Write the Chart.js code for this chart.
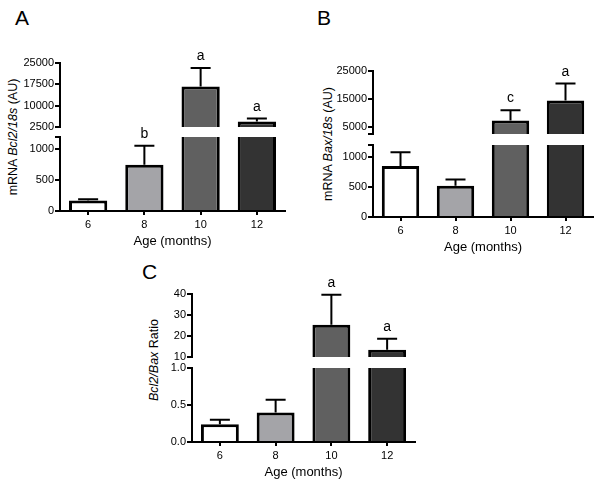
<!DOCTYPE html>
<html lang="en">
<head>
<meta charset="UTF-8">
<title>Bcl2 / Bax expression by age</title>
<script src="https://cdn.jsdelivr.net/npm/chart.js"></script>
<style>
  body { margin: 0; background: #fff; font-family: "Liberation Sans", Arial, sans-serif; }
  #figure { position: relative; width: 600px; height: 484px; overflow: hidden; }
  .seg { position: absolute; }
  .panel-letter { position: absolute; font-size: 21px; line-height: 1; color: #000; }
  .ytitle { position: absolute; font-size: 12.5px; line-height: 1; white-space: nowrap; color: #000;
            transform: translate(-50%, -50%) rotate(-90deg); }
</style>
</head>
<body>
<div id="figure">
  <div class="panel-letter" style="left:15px; top:7px;">A</div>
  <div class="panel-letter" style="left:317px; top:7px;">B</div>
  <div class="panel-letter" style="left:142px; top:261px;">C</div>
  <div class="ytitle" style="left:13px; top:137px;">mRNA <i>Bcl2/18s</i> (AU)</div>
  <div class="ytitle" style="left:328px; top:144px;">mRNA <i>Bax/18s</i> (AU)</div>
  <div class="ytitle" style="left:154px; top:360px;"><i>Bcl2/Bax</i> Ratio</div>
</div>

<script>
    Chart.defaults.font.family = '"Liberation Sans", Arial, sans-serif';
    Chart.defaults.color = '#000';

    const ages = ['6', '8', '10', '12'];
    const barColors = ['#ffffff', '#a4a4a8', '#606060', '#333333'];

    // A: Bcl2/18s
    const bcl2Mean = [170, 750, 16700, 4400];
    const bcl2Err = [20, 310, 6500, 1050];
    const bcl2Letters = ['', 'b', 'a', 'a'];
    const bcl2UpperTicks = [2500, 10000, 17500, 25000];
    const bcl2UpperLabels = ['2500', '10000', '17500', '25000'];
    const bcl2LowerTicks = [0, 500, 1000, 1200];
    const bcl2LowerLabels = ['0', '500', '1000', ''];

    // B: Bax/18s
    const baxMean = [850, 520, 7300, 14500];
    const baxErr = [230, 105, 3700, 6000];
    const baxLetters = ['', '', 'c', 'a'];
    const baxUpperTicks = [2500, 5000, 15000, 25000];
    const baxUpperLabels = ['', '5000', '15000', '25000'];
    const baxLowerTicks = [0, 500, 1000, 1200];
    const baxLowerLabels = ['0', '500', '1000', ''];

    // C: Bcl2/Bax ratio
    const ratioMean = [0.24, 0.40, 25.4, 13.5];
    const ratioErr = [0.06, 0.17, 14.3, 5.2];
    const ratioLetters = ['', '', 'a', 'a'];
    const ratioUpperTicks = [10, 20, 30, 40];
    const ratioUpperLabels = ['10', '20', '30', '40'];
    const ratioLowerTicks = [0, 0.5, 1.0];
    const ratioLowerLabels = ['0.0', '0.5', '1.0'];

    const Y_AXIS_W = 50;
    const X_AXIS_H = 38;

    // error bars (upward only) + significance letters
    const errorBarPlugin = {
        id: 'errorBars',
        afterDatasetsDraw(chart, args, opts) {
            const ctx = chart.ctx;
            const y = chart.scales.y;
            const meta = chart.getDatasetMeta(0);
            ctx.save();
            ctx.strokeStyle = '#000';
            ctx.fillStyle = '#000';
            ctx.lineWidth = 2;
            ctx.font = '14px "Liberation Sans", Arial, sans-serif';
            ctx.textAlign = 'center';
            ctx.textBaseline = 'alphabetic';
            opts.means.forEach((m, i) => {
                if (m < y.min || m > y.max) return;
                const x = meta.data[i].x;
                const top = y.getPixelForValue(m);
                const hi = y.getPixelForValue(m + opts.errors[i]);
                ctx.beginPath();
                ctx.moveTo(x, top);
                ctx.lineTo(x, hi);
                ctx.moveTo(x - 10, hi);
                ctx.lineTo(x + 10, hi);
                ctx.stroke();
                if (opts.letters[i]) ctx.fillText(opts.letters[i], x, hi - 8);
            });
            ctx.restore();
        }
    };

    function makeSegment(area, lower, mean, err, letters, tickValues, tickLabels) {
        const padTop = lower ? 10 : 30;
        const padBottom = lower ? 0 : 10;
        const padRight = 8;

        const div = document.createElement('div');
        div.className = 'seg';
        div.style.left = (area.left - Y_AXIS_W) + 'px';
        div.style.top = (area.top - padTop) + 'px';
        div.style.width = (area.right - area.left + Y_AXIS_W + padRight) + 'px';
        div.style.height = (padTop + area.bottom - area.top + (lower ? X_AXIS_H : padBottom)) + 'px';
        const canvas = document.createElement('canvas');
        div.appendChild(canvas);
        document.getElementById('figure').appendChild(div);

        return new Chart(canvas, {
            type: 'bar',
            data: {
                labels: ages,
                datasets: [{
                    data: mean,
                    backgroundColor: barColors,
                    borderColor: '#000',
                    borderWidth: 3,
                    borderSkipped: 'start',
                    categoryPercentage: 1,
                    barPercentage: 0.68,
                    clip: 0
                }]
            },
            options: {
                responsive: true,
                maintainAspectRatio: false,
                animation: false,
                layout: { padding: { top: padTop, bottom: padBottom, left: 0, right: padRight } },
                plugins: {
                    legend: { display: false },
                    tooltip: { enabled: false },
                    errorBars: { means: mean, errors: err, letters: letters }
                },
                scales: {
                    x: {
                        display: lower,
                        offset: true,
                        grid: { offset: false, drawOnChartArea: false, drawTicks: true, tickLength: 4, lineWidth: 2, color: '#000' },
                        border: { display: true, width: 2, color: '#000' },
                        ticks: { font: { size: 11 }, padding: 3, maxRotation: 0 },
                        title: { display: true, text: 'Age (months)', font: { size: 13 }, padding: 0 },
                        afterFit: s => { if (lower) s.height = X_AXIS_H; }
                    },
                    y: {
                        min: tickValues[0],
                        max: tickValues[tickValues.length - 1],
                        afterBuildTicks: s => { s.ticks = tickValues.map(v => ({ value: v })); },
                        afterFit: s => { s.width = Y_AXIS_W; },
                        grid: { drawOnChartArea: false, drawTicks: true, tickLength: 5, lineWidth: 2, color: '#000' },
                        border: { display: true, width: 2, color: '#000' },
                        ticks: { font: { size: 11 }, padding: 1, callback: (v, i) => tickLabels[i] }
                    }
                }
            },
            plugins: [errorBarPlugin]
        });
    }

    makeSegment({ left: 60, right: 285, top: 63, bottom: 127 }, false, bcl2Mean, bcl2Err, bcl2Letters, bcl2UpperTicks, bcl2UpperLabels);
    makeSegment({ left: 60, right: 285, top: 137, bottom: 211 }, true, bcl2Mean, bcl2Err, bcl2Letters, bcl2LowerTicks, bcl2LowerLabels);

    makeSegment({ left: 373, right: 593, top: 71, bottom: 134 }, false, baxMean, baxErr, baxLetters, baxUpperTicks, baxUpperLabels);
    makeSegment({ left: 373, right: 593, top: 145, bottom: 217 }, true, baxMean, baxErr, baxLetters, baxLowerTicks, baxLowerLabels);

    makeSegment({ left: 192, right: 415, top: 294, bottom: 357 }, false, ratioMean, ratioErr, ratioLetters, ratioUpperTicks, ratioUpperLabels);
    makeSegment({ left: 192, right: 415, top: 368, bottom: 442 }, true, ratioMean, ratioErr, ratioLetters, ratioLowerTicks, ratioLowerLabels);
</script>
</body>
</html>
